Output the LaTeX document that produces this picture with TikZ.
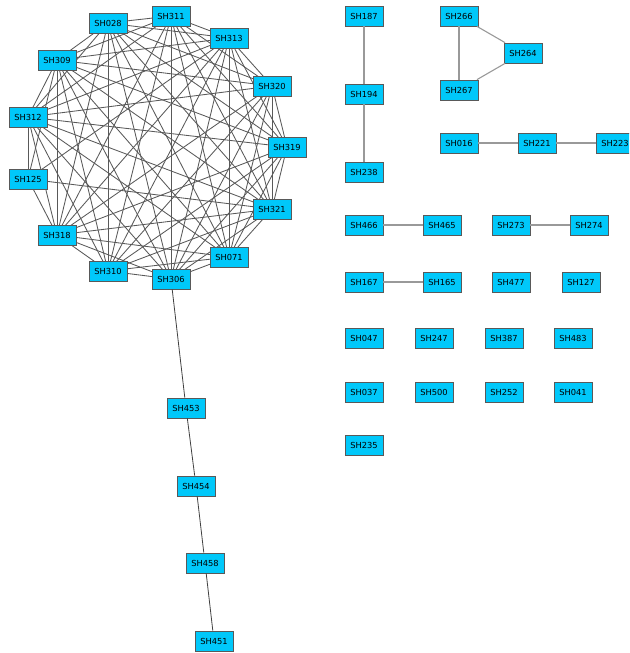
\documentclass[tikz,border=0pt]{standalone}
\usepackage{fontspec}
\setmainfont{DejaVu Sans}
\begin{document}
\begin{tikzpicture}[x=1pt,y=-1pt,
  vbox/.style={draw=black!65,fill={rgb,255:red,0;green,200;blue,250},
    minimum width=38pt,minimum height=20pt,inner sep=0pt,line width=0.8pt,
    font=\fontsize{8.3}{9}\selectfont},
  kedge/.style={draw=black!65,line width=0.85pt},
  pedge/.style={draw=black!40,line width=1.1pt},
  cedge/.style={draw=black!75,line width=0.8pt}]
\useasboundingbox (0,0) rectangle (629,653);
\clip (0,0) rectangle (629,653);
% positions of the ring
\foreach \n/\x/\y in {028/108/23, 311/171/16, 313/229/38, 320/272/86, 319/287/147,
  321/272/209, 071/229/257, 306/171/279, 310/108/271, 318/57/235, 125/28/179,
  312/28/117, 309/57/60}
  \coordinate (c\n) at (\x,\y);
% the twelve fully linked members
\foreach \a [count=\i] in {028,311,313,320,319,321,071,306,310,318,312,309}{
  \foreach \b [count=\j] in {028,311,313,320,319,321,071,306,310,318,312,309}{
    \ifnum\i<\j \draw[kedge] (c\a) -- (c\b); \fi
  }
}
% SH125 links
\foreach \b in {313,321,312,309,318}
  \draw[kedge] (c125) -- (c\b);
\foreach \n in {028,311,313,320,319,321,071,306,310,318,125,312,309}
  \node[vbox] (SH\n) at (c\n) {SH\n};
% chain below
\node[vbox] (SH453) at (186,408) {SH453};
\node[vbox] (SH454) at (196,486) {SH454};
\node[vbox] (SH458) at (205,563) {SH458};
\node[vbox] (SH451) at (214,641) {SH451};
% right-hand components
\node[vbox] (SH187) at (364,16) {SH187};
\node[vbox] (SH194) at (364,94) {SH194};
\node[vbox] (SH238) at (364,172) {SH238};
\node[vbox] (SH266) at (459,16) {SH266};
\node[vbox] (SH267) at (459,90) {SH267};
\node[vbox] (SH264) at (523,53) {SH264};
\node[vbox] (SH016) at (459,143) {SH016};
\node[vbox] (SH221) at (537,143) {SH221};
\node[vbox] (SH223) at (615,143) {SH223};
\node[vbox] (SH466) at (364,225) {SH466};
\node[vbox] (SH465) at (442,225) {SH465};
\node[vbox] (SH273) at (511,225) {SH273};
\node[vbox] (SH274) at (589,225) {SH274};
\node[vbox] (SH167) at (364,282) {SH167};
\node[vbox] (SH165) at (442,282) {SH165};
\node[vbox] (SH477) at (511,282) {SH477};
\node[vbox] (SH127) at (581,282) {SH127};
\node[vbox] (SH047) at (364,338) {SH047};
\node[vbox] (SH247) at (434,338) {SH247};
\node[vbox] (SH387) at (504,338) {SH387};
\node[vbox] (SH483) at (573,338) {SH483};
\node[vbox] (SH037) at (364,392) {SH037};
\node[vbox] (SH500) at (434,392) {SH500};
\node[vbox] (SH252) at (504,392) {SH252};
\node[vbox] (SH041) at (573,392) {SH041};
\node[vbox] (SH235) at (364,445) {SH235};
% connectors
\draw[cedge] (SH306) -- (SH453);
\draw[cedge] (SH453) -- (SH454);
\draw[cedge] (SH454) -- (SH458);
\draw[cedge] (SH458) -- (SH451);
\draw[pedge] (SH187) -- (SH194);
\draw[pedge] (SH194) -- (SH238);
\draw[pedge] (SH266) -- (SH267);
\draw[pedge] (SH266) -- (SH264);
\draw[pedge] (SH267) -- (SH264);
\draw[pedge] (SH016) -- (SH221);
\draw[pedge] (SH221) -- (SH223);
\draw[pedge] (SH466) -- (SH465);
\draw[pedge] (SH273) -- (SH274);
\draw[pedge] (SH167) -- (SH165);
\end{tikzpicture}
\end{document}
